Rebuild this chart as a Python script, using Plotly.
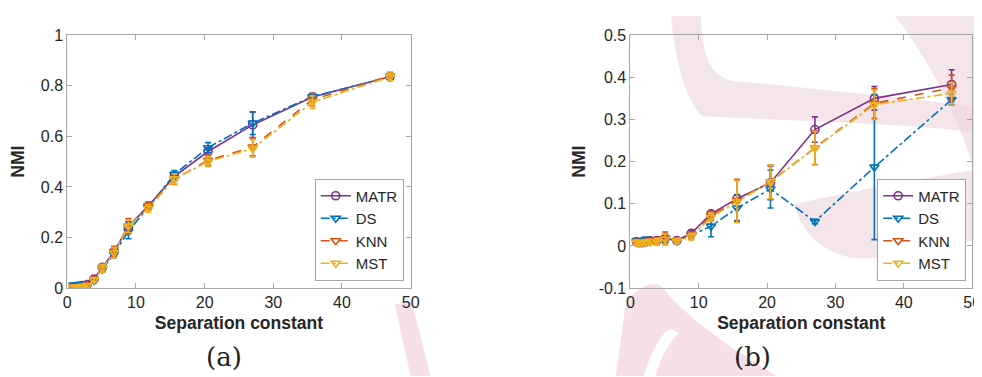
import plotly.graph_objects as go

# ---------------- data ----------------
sep = [0.9, 1.3, 1.7, 2.2, 2.9, 3.9, 5.1, 6.8, 8.9, 11.8, 15.6, 20.5, 27.0, 35.7, 47.0]

# panel (a)
matr_a = [0.005, 0.006, 0.008, 0.010, 0.014, 0.036, 0.082, 0.143, 0.243, 0.325, 0.442, 0.540, 0.645, 0.755, 0.835]
matr_a_err = [0.005, 0.005, 0.005, 0.005, 0.006, 0.008, 0.012, 0.015, 0.020, 0.012, 0.012, 0.015, 0.050, 0.012, 0.012]
ds_a = [0.012, 0.012, 0.012, 0.013, 0.015, 0.030, 0.075, 0.135, 0.225, 0.320, 0.450, 0.555, 0.652, 0.757, 0.835]
ds_a_err = [0.005, 0.005, 0.005, 0.005, 0.006, 0.008, 0.012, 0.015, 0.030, 0.012, 0.015, 0.020, 0.045, 0.012, 0.012]
knn_a = [0.004, 0.005, 0.006, 0.008, 0.012, 0.035, 0.080, 0.145, 0.245, 0.325, 0.430, 0.505, 0.558, 0.745, 0.838]
knn_a_err = [0.005, 0.005, 0.005, 0.005, 0.006, 0.008, 0.015, 0.020, 0.030, 0.015, 0.020, 0.020, 0.035, 0.025, 0.015]
mst_a = [0.003, 0.004, 0.005, 0.007, 0.010, 0.033, 0.078, 0.140, 0.245, 0.315, 0.432, 0.500, 0.552, 0.735, 0.835]
mst_a_err = [0.005, 0.005, 0.005, 0.005, 0.006, 0.008, 0.015, 0.020, 0.025, 0.015, 0.020, 0.020, 0.035, 0.025, 0.015]

# panel (b)
matr_b = [0.010, 0.008, 0.008, 0.010, 0.012, 0.013, 0.018, 0.013, 0.030, 0.076, 0.112, 0.150, 0.276, 0.350, 0.383]
matr_b_err = [0.006, 0.005, 0.005, 0.006, 0.006, 0.008, 0.010, 0.006, 0.008, 0.008, 0.010, 0.040, 0.030, 0.028, 0.035]
ds_b = [0.012, 0.011, 0.010, 0.015, 0.012, 0.013, 0.016, 0.012, 0.025, 0.047, 0.090, 0.135, 0.058, 0.187, 0.347]
ds_b_err = [0.006, 0.005, 0.005, 0.006, 0.006, 0.006, 0.008, 0.006, 0.008, 0.025, 0.030, 0.045, 0.005, 0.172, 0.012]
knn_b = [0.010, 0.009, 0.008, 0.010, 0.011, 0.012, 0.018, 0.013, 0.025, 0.072, 0.108, 0.152, 0.233, 0.338, 0.375]
knn_b_err = [0.006, 0.005, 0.005, 0.006, 0.006, 0.008, 0.015, 0.006, 0.008, 0.010, 0.050, 0.040, 0.040, 0.035, 0.030]
mst_b = [0.008, 0.008, 0.007, 0.009, 0.010, 0.010, 0.016, 0.012, 0.022, 0.068, 0.105, 0.152, 0.232, 0.335, 0.362]
mst_b_err = [0.006, 0.005, 0.005, 0.006, 0.006, 0.008, 0.012, 0.006, 0.008, 0.010, 0.050, 0.040, 0.040, 0.035, 0.025]

methods = ["MATR", "DS", "KNN", "MST"]
x_ticks = [0, 10, 20, 30, 40, 50]
ya_ticks = [0, 0.2, 0.4, 0.6, 0.8, 1]
ya_text = ["0", "0.2", "0.4", "0.6", "0.8", "1"]
yb_ticks = [-0.1, 0, 0.1, 0.2, 0.3, 0.4, 0.5]
yb_text = ["-0.1", "0", "0.1", "0.2", "0.3", "0.4", "0.5"]

# ---------------- styles ----------------
W, H = 982, 377
colors = {"MATR": "#7E2F8E", "DS": "#0072BD", "KNN": "#D95319", "MST": "#EDB120"}
dashes = {"MATR": "solid", "DS": "dashdot", "KNN": "dash", "MST": "dashdot"}
symbols = {"MATR": "circle-open", "DS": "triangle-down-open", "KNN": "triangle-down-open", "MST": "triangle-down-open"}

def px(x, y):
    return x / W, 1 - y / H

fig = go.Figure()

panel_a = {"MATR": (matr_a, matr_a_err), "DS": (ds_a, ds_a_err), "KNN": (knn_a, knn_a_err), "MST": (mst_a, mst_a_err)}
panel_b = {"MATR": (matr_b, matr_b_err), "DS": (ds_b, ds_b_err), "KNN": (knn_b, knn_b_err), "MST": (mst_b, mst_b_err)}

for panel, xa, ya, leg in [(panel_a, "x", "y", "legend"), (panel_b, "x2", "y2", "legend2")]:
    for m in methods:
        vals, errs = panel[m]
        fig.add_trace(go.Scatter(
            x=sep, y=vals, name=m, mode="lines+markers",
            xaxis=xa, yaxis=ya, legend=leg,
            line=dict(color=colors[m], width=1.6, dash=dashes[m]),
            marker=dict(symbol=symbols[m], size=8, color=colors[m], line=dict(width=1.6, color=colors[m])),
            error_y=dict(type="data", array=errs, visible=True, color=colors[m], thickness=1.6, width=3),
        ))

axis_common = dict(
    showline=True, mirror="ticks", linecolor="#a6a6a6", linewidth=1,
    ticks="inside", ticklen=5, tickcolor="#a6a6a6", showgrid=False, zeroline=False,
    tickfont=dict(family="Liberation Sans, Arial", size=16, color="#262626"),
)
title_font = dict(family="Liberation Sans, Arial", size=17.5, color="#262626")

ydom = [1 - 285 / H, 1 - 20 / H]
fig.update_layout(
    width=W, height=H, margin=dict(l=0, r=0, t=0, b=0),
    paper_bgcolor="white", plot_bgcolor="rgba(0,0,0,0)",
    xaxis=dict(domain=[56 / W, 404 / W], range=[0, 50], tickvals=x_ticks, anchor="y",
               title=dict(text="<b>Separation constant</b>", font=title_font, standoff=6), **axis_common),
    yaxis=dict(domain=ydom, range=[0, 1], tickvals=ya_ticks, ticktext=ya_text, anchor="x",
               title=dict(text="<b>NMI</b>", font=title_font, standoff=11), **axis_common),
    xaxis2=dict(domain=[626.7 / W, 973 / W], range=[0, 50], tickvals=x_ticks, anchor="y2",
                title=dict(text="<b>Separation constant</b>", font=title_font, standoff=6), **axis_common),
    yaxis2=dict(domain=ydom, range=[-0.1, 0.5], tickvals=yb_ticks, ticktext=yb_text, anchor="x2",
                title=dict(text="<b>NMI</b>", font=title_font, standoff=8), **axis_common),
    legend=dict(x=397 / W, y=1 - 277 / H, xanchor="right", yanchor="bottom",
                bgcolor="white", bordercolor="#a6a6a6", borderwidth=1,
                font=dict(family="Liberation Sans, Arial", size=15, color="#262626"),
                tracegroupgap=0, itemwidth=30),
    legend2=dict(x=967 / W, y=1 - 277 / H, xanchor="right", yanchor="bottom",
                 bgcolor="white", bordercolor="#a6a6a6", borderwidth=1,
                 font=dict(family="Liberation Sans, Arial", size=15, color="#262626"),
                 tracegroupgap=0, itemwidth=30),
    showlegend=True,
)

# captions
for txt, cx in [("(a)", 215), ("(b)", 750)]:
    xx, yy = px(cx, 357)
    fig.add_annotation(text=txt, x=xx, y=yy, xref="paper", yref="paper", showarrow=False,
                       xanchor="center", yanchor="middle",
                       font=dict(family="DejaVu Serif, Liberation Serif", size=26, color="#222222"))

# background watermark (decorative)
def path(points_cmds):
    out = []
    for cmd in points_cmds:
        if isinstance(cmd, str):
            out.append(cmd)
        else:
            a, b = px(*cmd)
            out.append(f"{a:.5f},{b:.5f}")
    return " ".join(out)

pink = "rgba(236,212,220,0.6)"
pink2 = "rgba(238,196,210,0.55)"
shapes_pts = [
    (["M", (668, 0), "L", (698, 0), "C", (700, 40), (705, 62), (730, 68), "C", (800, 74), (880, 84), (982, 95),
      "L", (982, 122), "C", (900, 112), (800, 110), (700, 105), "C", (684, 90), (672, 50), (668, 0), "Z"], pink),
    (["M", (895, 0), "L", (982, 0), "L", (982, 185), "C", (968, 130), (940, 60), (895, 0), "Z"], pink),
    (["M", (793, 197), "C", (840, 186), (910, 172), (982, 160), "L", (982, 232), "C", (940, 248), (880, 256), (850, 253),
      "C", (818, 246), (800, 226), (793, 197), "Z"], pink),
    (["M", (622, 300), "C", (636, 282), (655, 272), (665, 292), "C", (695, 325), (735, 352), (775, 377),
      "L", (612, 377), "Z"], pink2),
    (["M", (388, 302), "L", (405, 299), "L", (424, 377), "L", (404, 377), "Z"], pink2),
]
shapes = []
for pts, col in shapes_pts:
    shapes.append(dict(type="path", path=path(pts), xref="paper", yref="paper",
                       fillcolor=col, line=dict(width=0), layer="below"))
shapes.append(dict(type="path", path=path(["M", (640, 377), "C", (650, 345), (660, 330), (668, 328),
                                           "L", (676, 332), "C", (668, 340), (658, 355), (652, 377), "Z"]),
                   xref="paper", yref="paper", fillcolor="white", line=dict(width=0), layer="below"))
fig.update_layout(shapes=shapes)

fig.write_html("out.html")
